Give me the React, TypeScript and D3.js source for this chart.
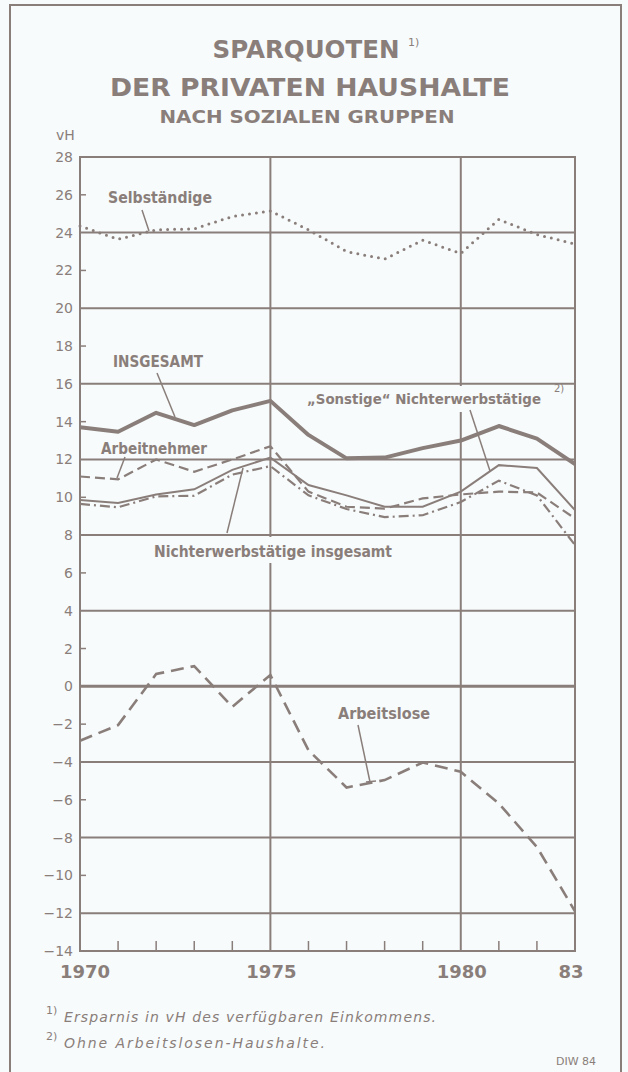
import React from "react";
import * as d3 from "d3";

const years = [1970, 1971, 1972, 1973, 1974, 1975, 1976, 1977, 1978, 1979, 1980, 1981, 1982, 1983];
const selbstaendige = [24.35, 23.65, 24.15, 24.2, 24.85, 25.15, 24.15, 23.0, 22.6, 23.6, 22.9, 24.7, 23.9, 23.4];
const insgesamt = [13.7, 13.47, 14.47, 13.82, 14.6, 15.1, 13.3, 12.06, 12.1, 12.6, 13.0, 13.77, 13.1, 11.75];
const arbeitnehmer = [11.1, 10.95, 12.0, 11.35, 12.0, 12.7, 10.3, 9.5, 9.4, 9.94, 10.15, 10.3, 10.25, 8.88];
const sonstige = [9.85, 9.7, 10.15, 10.42, 11.45, 12.1, 10.65, 10.1, 9.5, 9.5, 10.3, 11.7, 11.55, 9.32];
const nichterwerbInsg = [9.65, 9.47, 10.05, 10.08, 11.2, 11.65, 10.1, 9.38, 8.95, 9.05, 9.75, 10.88, 10.1, 7.47];
const arbeitslose = [-2.88, -2.05, 0.65, 1.07, -1.08, 0.6, -3.38, -5.35, -4.96, -4.03, -4.52, -6.2, -8.5, -11.9];

const yTicks = [28, 26, 24, 22, 20, 18, 16, 14, 12, 10, 8, 6, 4, 2, 0, -2, -4, -6, -8, -10, -12, -14];
const gridValues = [24, 20, 16, 12, 8, 4, 0, -4, -8, -12];
const xLabels = [
  { year: 1970, text: "1970" },
  { year: 1975, text: "1975" },
  { year: 1980, text: "1980" },
  { year: 1983, text: "83" },
];

const INK = "#8a7e7a";
const BG = "#f7fbfc";
const COND = "'DejaVu Sans Condensed', 'Liberation Sans Narrow', 'DejaVu Sans', sans-serif";
const WIDE = "'DejaVu Sans', 'Verdana', sans-serif";
const PLAIN = "'DejaVu Sans', 'Noto Sans', sans-serif";

export default function App() {
  const x = d3.scaleLinear().domain([1970, 1983]).range([80, 575]);
  const y = d3.scaleLinear().domain([-14, 28]).range([951, 157]);
  const line = (vals: number[]) =>
    d3.line<number>().x((_, i) => x(years[i])).y((v) => y(v))(vals) || "";

  const left = x(1970), right = x(1983), top = y(28), bottom = y(-14);

  return (
    <div style={{ position: "absolute", left: 0, top: 0 }}>
      <svg width={628} height={1072} style={{ display: "block", background: BG }}>
        <rect x={0} y={0} width={628} height={1072} fill={BG} />
        {/* page border */}
        <rect x={10} y={5} width={611} height={1075} fill="none" stroke={INK} strokeWidth={2} />

        {/* title */}
        <text x={306} y={58} textAnchor="middle" fontFamily={WIDE} fontWeight="bold" fontSize={24} fill={INK}
          textLength={187} lengthAdjust="spacingAndGlyphs">SPARQUOTEN</text>
        <text x={408} y={46} fontFamily={PLAIN} fontSize={11} fill={INK}>1)</text>
        <text x={310} y={96} textAnchor="middle" fontFamily={WIDE} fontWeight="bold" fontSize={24} fill={INK}
          textLength={400} lengthAdjust="spacingAndGlyphs">DER PRIVATEN HAUSHALTE</text>
        <text x={307} y={123} textAnchor="middle" fontFamily={WIDE} fontWeight="bold" fontSize={17} fill={INK}
          textLength={295} lengthAdjust="spacingAndGlyphs">NACH SOZIALEN GRUPPEN</text>

        {/* vH unit */}
        <text x={56} y={140} fontFamily={PLAIN} fontSize={14} fill={INK}>vH</text>

        {/* grid */}
        {gridValues.map((v) => (
          <line key={"g" + v} x1={left} x2={right} y1={y(v)} y2={y(v)} stroke={INK}
            strokeWidth={v === 0 ? 3 : 2} />
        ))}
        {/* verticals with gaps behind labels */}
        <line x1={x(1975)} x2={x(1975)} y1={top} y2={537} stroke={INK} strokeWidth={2} />
        <line x1={x(1975)} x2={x(1975)} y1={563} y2={bottom} stroke={INK} strokeWidth={2} />
        <line x1={x(1980)} x2={x(1980)} y1={top} y2={386} stroke={INK} strokeWidth={2} />
        <line x1={x(1980)} x2={x(1980)} y1={412} y2={bottom} stroke={INK} strokeWidth={2} />
        {/* frame */}
        <rect x={left} y={top} width={right - left} height={bottom - top} fill="none" stroke={INK} strokeWidth={2} />

        {/* y ticks and labels */}
        {yTicks.map((v) => (
          <g key={"t" + v}>
            {gridValues.indexOf(v) < 0 && v !== 28 && v !== -14 && (
              <line x1={left} x2={left + 6} y1={y(v)} y2={y(v)} stroke={INK} strokeWidth={1.5} />
            )}
            <text x={73} y={y(v) + 5} textAnchor="end" fontFamily={PLAIN} fontSize={14} fill={INK}>
              {v < 0 ? "\u2212" + Math.abs(v) : String(v)}
            </text>
          </g>
        ))}

        {/* x ticks */}
        {years.filter((yr) => yr !== 1970 && yr !== 1975 && yr !== 1980 && yr !== 1983).map((yr) => (
          <line key={"x" + yr} x1={x(yr)} x2={x(yr)} y1={bottom} y2={bottom - 10} stroke={INK} strokeWidth={1.5} />
        ))}
        {xLabels.map((d) => (
          <text key={d.text} x={x(d.year) + (d.year === 1983 ? -4 : d.year === 1970 ? 5 : 1)} y={978}
            textAnchor="middle" fontFamily={WIDE} fontWeight="bold" fontSize={18} fill={INK}>{d.text}</text>
        ))}

        {/* series */}
        <path d={line(selbstaendige)} fill="none" stroke={INK} strokeWidth={3} strokeDasharray="0 7" strokeLinecap="round" />
        <path d={line(arbeitnehmer)} fill="none" stroke={INK} strokeWidth={2.2} strokeDasharray="10 5" />
        <path d={line(sonstige)} fill="none" stroke={INK} strokeWidth={2} />
        <path d={line(nichterwerbInsg)} fill="none" stroke={INK} strokeWidth={2.2} strokeDasharray="10 4 2 4" />
        <path d={line(insgesamt)} fill="none" stroke={INK} strokeWidth={4} strokeLinejoin="round" />
        <path d={line(arbeitslose)} fill="none" stroke={INK} strokeWidth={2.6} strokeDasharray="13 7" />

        {/* labels */}
        <g fontFamily={COND} fontWeight="bold" fontSize={16} fill={INK}>
          <text x={108} y={203} textLength={104} lengthAdjust="spacingAndGlyphs">Selbständige</text>
          <text x={113} y={367} textLength={90} lengthAdjust="spacingAndGlyphs">INSGESAMT</text>
          <text x={101} y={454} textLength={106} lengthAdjust="spacingAndGlyphs">Arbeitnehmer</text>
          <text x={154} y={557} textLength={238} lengthAdjust="spacingAndGlyphs">Nichterwerbstätige insgesamt</text>
          <text x={307} y={404} fontSize={14.5} textLength={234} lengthAdjust="spacingAndGlyphs">„Sonstige“ Nichterwerbstätige</text>
          <text x={338} y={719} textLength={92} lengthAdjust="spacingAndGlyphs">Arbeitslose</text>
        </g>
        <text x={554} y={392} fontFamily={PLAIN} fontSize={10} fill={INK}>2)</text>

        {/* leader lines */}
        <g stroke={INK} strokeWidth={1.5}>
          <line x1={142} y1={210} x2={149} y2={231} />
          <line x1={157} y1={373} x2={175} y2={417} />
          <line x1={125} y1={457} x2={117} y2={478} />
          <line x1={227} y1={533} x2={243} y2={468} />
          <line x1={470} y1={410} x2={490} y2={471} />
          <line x1={358} y1={725} x2={370} y2={782} />
          <line x1={366} y1={782} x2={376} y2={781} />
        </g>

        {/* footnotes */}
        <text x={46} y={1014} fontFamily={PLAIN} fontSize={11} fill={INK}>1)</text>
        <text x={64} y={1022} fontFamily={PLAIN} fontStyle="italic" fontSize={14} fill={INK}
          textLength={372} lengthAdjust="spacing">Ersparnis in vH des verfügbaren Einkommens.</text>
        <text x={46} y={1040} fontFamily={PLAIN} fontSize={11} fill={INK}>2)</text>
        <text x={64} y={1048} fontFamily={PLAIN} fontStyle="italic" fontSize={14} fill={INK}
          textLength={261} lengthAdjust="spacing">Ohne Arbeitslosen-Haushalte.</text>
        <text x={556} y={1065} fontFamily={PLAIN} fontSize={11} fill={INK}>DIW  84</text>
      </svg>
    </div>
  );
}
